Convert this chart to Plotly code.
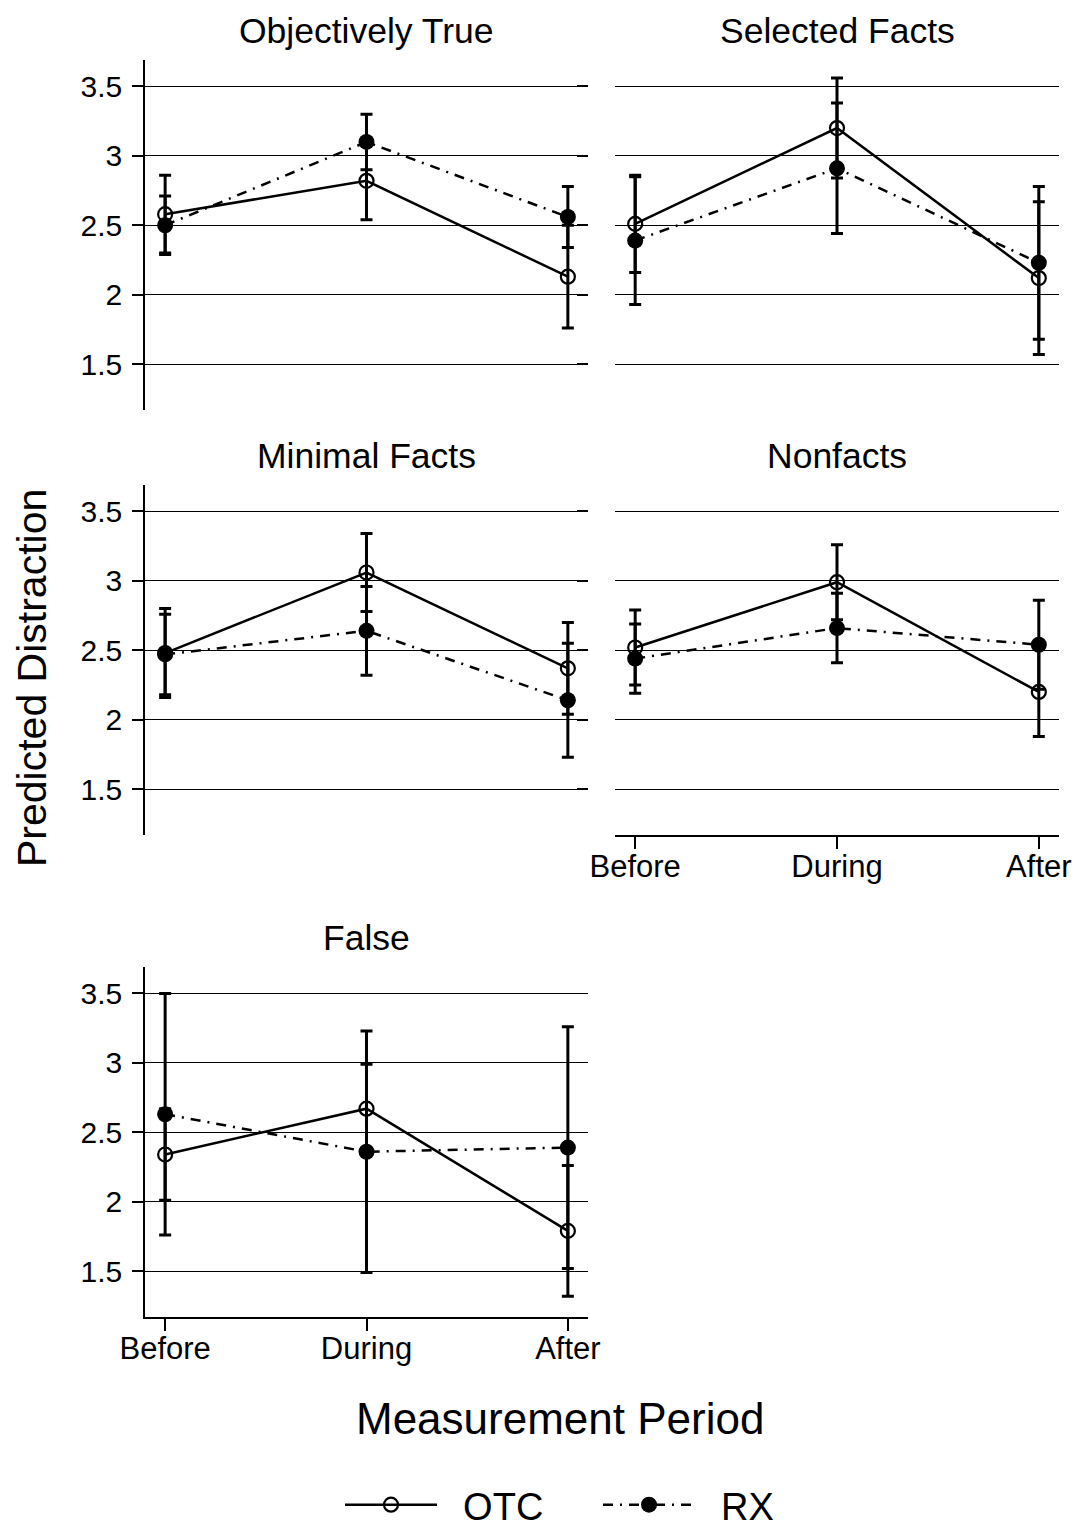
import plotly.graph_objects as go

# ---- data -------------------------------------------------------------
periods = ["Before", "During", "After"]
period_pos = [0, 1, 2]
panel_titles = ["Objectively True", "Selected Facts", "Minimal Facts", "Nonfacts", "False"]

# predicted distraction (means) per panel, Before / During / After
otc_mean = [
    [2.58, 2.82, 2.13],   # Objectively True
    [2.51, 3.20, 2.12],   # Selected Facts
    [2.48, 3.06, 2.37],   # Minimal Facts
    [2.52, 2.99, 2.20],   # Nonfacts
    [2.34, 2.67, 1.79],   # False
]
rx_mean = [
    [2.50, 3.10, 2.56],
    [2.39, 2.91, 2.23],
    [2.47, 2.64, 2.14],
    [2.44, 2.66, 2.54],
    [2.63, 2.36, 2.39],
]
# half-widths of the confidence intervals
otc_ci = [
    [0.28, 0.28, 0.37],
    [0.35, 0.36, 0.55],
    [0.32, 0.28, 0.33],
    [0.27, 0.27, 0.32],
    [0.33, 0.32, 0.47],
]
rx_ci = [
    [0.21, 0.20, 0.22],
    [0.46, 0.47, 0.55],
    [0.29, 0.32, 0.41],
    [0.25, 0.25, 0.32],
    [0.87, 0.87, 0.87],
]
y_ticks = [1.5, 2, 2.5, 3, 3.5]

# ---- layout geometry (pixels) -----------------------------------------
W, H = 1077, 1528
FONT = "Liberation Sans, Arial, Helvetica, sans-serif"
cols = [(145, 588), (615, 1059)]
rows = [(60, 410), (485, 835), (967, 1317)]
cells = [(0, 0), (0, 1), (1, 0), (1, 1), (2, 0)]
x_axis_shown = {3, 4}


def xdom(l, r):
    return [l / W, r / W]


def ydom(t, b):
    return [1 - b / H, 1 - t / H]


fig = go.Figure()
layout = dict(
    width=W, height=H,
    margin=dict(l=0, r=0, t=0, b=0, autoexpand=False),
    paper_bgcolor="white", plot_bgcolor="white",
    font=dict(family=FONT, color="black"),
)
annotations = []

for i, title in enumerate(panel_titles):
    k = i + 1
    xa = "x" if k == 1 else f"x{k}"
    ya = "y" if k == 1 else f"y{k}"
    r, c = cells[i]
    (t, b), (l, rr) = rows[r], cols[c]

    first = i == 0
    fig.add_trace(go.Scatter(
        x=period_pos, y=otc_mean[i], xaxis=xa, yaxis=ya,
        mode="lines+markers", name="\u00a0\u00a0OTC", legendgroup="OTC", showlegend=first,
        line=dict(color="black", width=2.5),
        marker=dict(symbol="circle-open", size=14, color="black", line=dict(width=2.2)),
        error_y=dict(type="data", array=otc_ci[i], visible=True,
                     color="black", thickness=3, width=6),
    ))
    fig.add_trace(go.Scatter(
        x=period_pos, y=rx_mean[i], xaxis=xa, yaxis=ya,
        mode="lines+markers", name="\u00a0\u00a0RX", legendgroup="RX", showlegend=first,
        line=dict(color="black", width=2.5, dash="10px,7px,2px,7px"),
        marker=dict(symbol="circle", size=16, color="black"),
        error_y=dict(type="data", array=rx_ci[i], visible=True,
                     color="black", thickness=3, width=6),
    ))

    xkey = "xaxis" if k == 1 else f"xaxis{k}"
    ykey = "yaxis" if k == 1 else f"yaxis{k}"
    xcfg = dict(domain=xdom(l, rr), anchor=ya, range=[-0.1, 2.1],
                tickvals=period_pos, ticktext=periods, automargin=False,
                showgrid=False, zeroline=False, fixedrange=True)
    if i in x_axis_shown:
        xcfg.update(showline=True, linecolor="black", linewidth=1.6,
                    ticks="outside", ticklen=12, tickwidth=1.6, tickcolor="black",
                    ticklabelstandoff=-9,
                    tickfont=dict(size=31, family=FONT, color="black"))
    else:
        xcfg.update(visible=False)
    layout[xkey] = xcfg

    ycfg = dict(domain=ydom(t, b), range=[1.17, 3.69], tickvals=y_ticks,
                showgrid=True, gridcolor="black", gridwidth=1, zeroline=False,
                ticks="outside", ticklen=11, tickwidth=1.6, tickcolor="black",
                automargin=False, fixedrange=True)
    if c == 0:
        ycfg.update(anchor=xa, showline=True, linecolor="black", linewidth=1.6,
                    showticklabels=True, ticklabelstandoff=4,
                    tickfont=dict(size=30, family=FONT, color="black"))
    else:
        ycfg.update(anchor="free", position=588 / W, showline=False,
                    showticklabels=False)
    layout[ykey] = ycfg

    # panel heading
    annotations.append(dict(
        text=title, xref="paper", yref="paper",
        x=(l + rr) / 2 / W, y=1 - (t - 29) / H,
        xanchor="center", yanchor="middle", showarrow=False,
        font=dict(size=35.5, family=FONT, color="black"),
    ))

annotations.append(dict(
    text="Predicted Distraction", xref="paper", yref="paper",
    x=32 / W, y=1 - 678 / H, xanchor="center", yanchor="middle",
    textangle=-90, showarrow=False,
    font=dict(size=41, family=FONT, color="black"),
))
annotations.append(dict(
    text="Measurement Period", xref="paper", yref="paper",
    x=560 / W, y=1 - 1418 / H, xanchor="center", yanchor="middle",
    showarrow=False,
    font=dict(size=44, family=FONT, color="black"),
))

layout["annotations"] = annotations
layout["showlegend"] = True
layout["legend"] = dict(
    orientation="h", xref="container", yref="container",
    x=340 / W, xanchor="left",
    y=1 - 1505 / H, yanchor="middle",
    font=dict(size=38, family=FONT, color="black"),
    itemwidth=92, entrywidth=151, entrywidthmode="pixels",
    bgcolor="rgba(0,0,0,0)",
)
fig.update_layout(**layout)

fig.write_html("out.html")
